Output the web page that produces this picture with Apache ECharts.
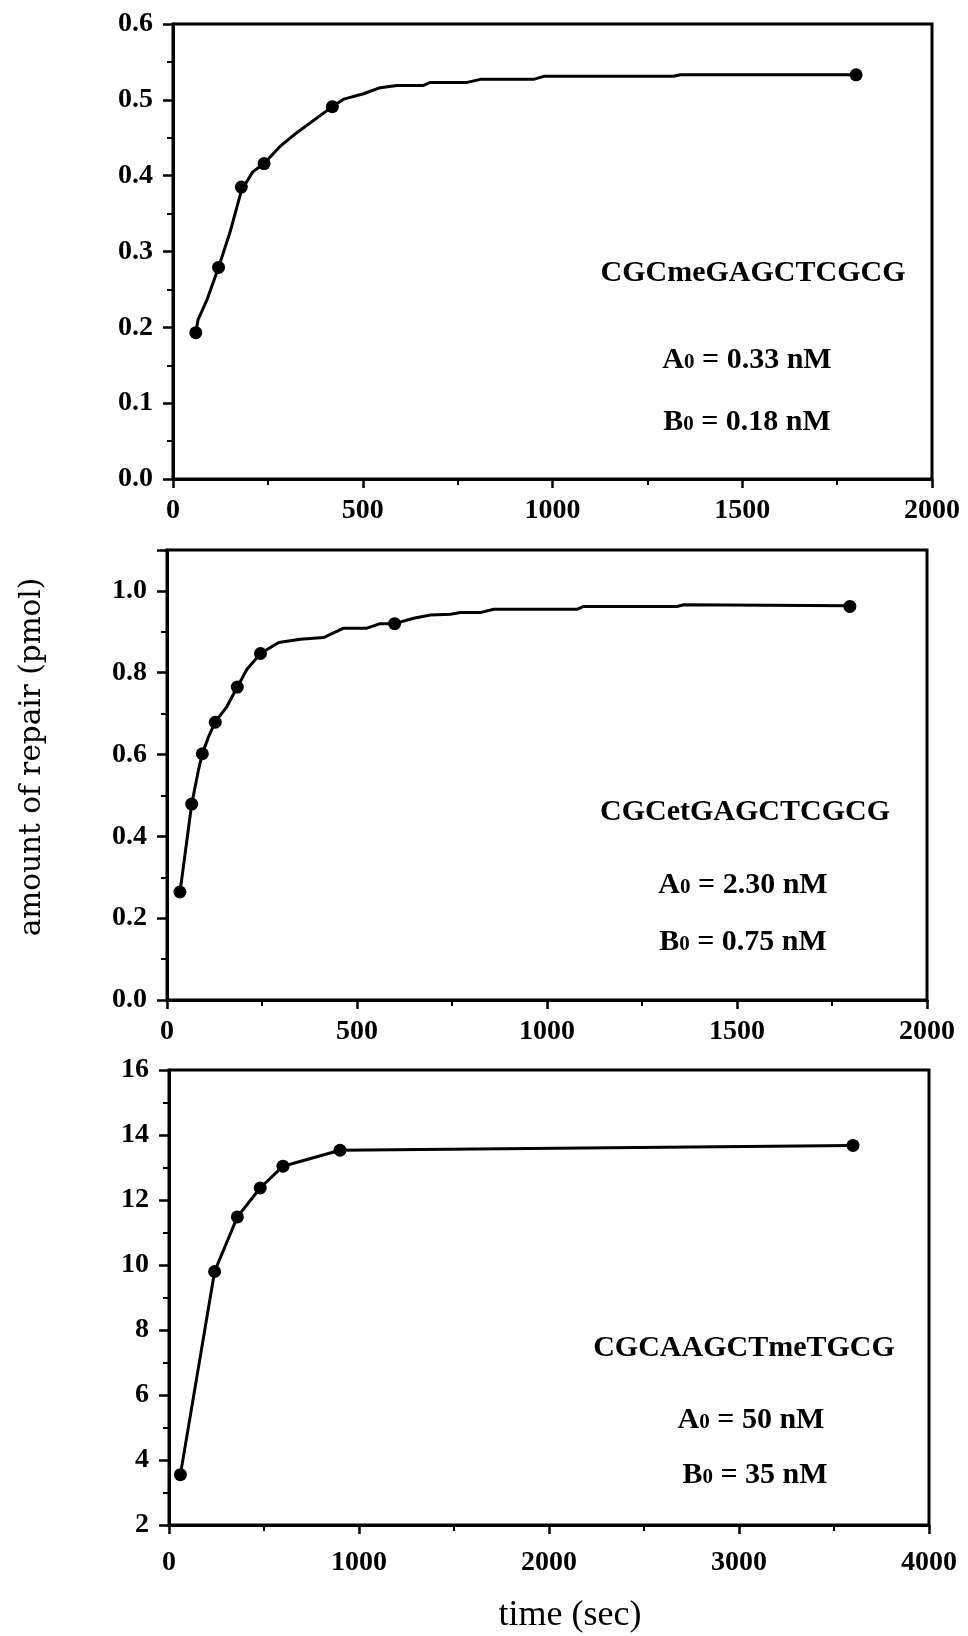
<!DOCTYPE html>
<html>
<head>
<meta charset="utf-8">
<script src="https://cdn.jsdelivr.net/npm/echarts@6/dist/echarts.min.js"></script>
<style>
html,body{margin:0;padding:0;background:#fff;}
#chart{width:968px;height:1636px;}
</style>
</head>
<body>
<div id="chart"></div>
<script>
// ---- Data ----
// Panel 1: CGCmeGAGCTCGCG
const time1 = [60, 120, 180, 240, 420, 1800];
const repair1 = [0.193, 0.279, 0.385, 0.416, 0.491, 0.533];
const fitTime1 = [60, 66, 90, 120, 150, 180, 210, 240, 283, 327, 420, 450, 502, 546, 590, 660, 678, 775, 810, 950, 977, 1319, 1337, 1800];
const fitRepair1 = [0.193, 0.210, 0.237, 0.279, 0.325, 0.380, 0.405, 0.416, 0.439, 0.457, 0.491, 0.501, 0.508, 0.516, 0.519, 0.519, 0.523, 0.523, 0.527, 0.527, 0.531, 0.531, 0.533, 0.533];

// Panel 2: CGCetGAGCTCGCG
const time2 = [34, 65, 93, 127, 185, 246, 599, 1797];
const repair2 = [0.264, 0.479, 0.602, 0.679, 0.765, 0.847, 0.920, 0.962];
const fitTime2 = [34, 38, 65, 83, 93, 110, 127, 158, 185, 210, 246, 294, 351, 412, 465, 526, 561, 599, 649, 693, 746, 772, 824, 860, 1079, 1096, 1342, 1360, 1797];
const fitRepair2 = [0.264, 0.290, 0.479, 0.563, 0.602, 0.645, 0.679, 0.718, 0.765, 0.808, 0.847, 0.874, 0.882, 0.886, 0.909, 0.909, 0.920, 0.920, 0.933, 0.941, 0.943, 0.947, 0.947, 0.955, 0.955, 0.962, 0.962, 0.966, 0.964];

// Panel 3: CGCAAGCTmeTGCG
const time3 = [60, 240, 360, 480, 600, 900, 3600];
const repair3 = [3.55, 9.8, 11.48, 12.37, 13.04, 13.53, 13.68];

// Axis ranges / ticks
const xRanges = [[0, 2000, 500], [0, 2000, 500], [0, 4000, 1000]];
const yRanges = [[0, 0.6, 0.1], [0, 1.1, 0.2], [2, 16, 2]];

// Annotations
const seqLabels = ['CGCmeGAGCTCGCG', 'CGCetGAGCTCGCG', 'CGCAAGCTmeTGCG'];
const aLabels = [' = 0.33 nM', ' = 2.30 nM', ' = 50 nM'];
const bLabels = [' = 0.18 nM', ' = 0.75 nM', ' = 35 nM'];
const yTitle = 'amount of repair (pmol)';
const xTitle = 'time (sec)';

// ---- Layout ----
const grids = [
  {left: 173, top: 24, width: 759, height: 455},
  {left: 167, top: 550, width: 760, height: 450},
  {left: 169, top: 1070, width: 760, height: 455}
];
const yDec = [1, 1, 0];
const xLabelMargin = [18, 18, 24];

const SERIF = '"Liberation Serif", "Times New Roman", serif';
const BLACK = '#000';

function pairs(xs, ys) { return xs.map((x, i) => [x, ys[i]]); }

const option = {
  backgroundColor: '#fff',
  animation: false,
  grid: grids.map(g => Object.assign({show: true, borderColor: BLACK, borderWidth: 3, backgroundColor: 'transparent'}, g)),
  xAxis: xRanges.map((r, i) => ({
    type: 'value', gridIndex: i, min: r[0], max: r[1], interval: r[2],
    axisLine: {show: true, onZero: false, lineStyle: {color: BLACK, width: 3}},
    axisTick: {show: true, inside: false, length: 9, lineStyle: {color: BLACK, width: 2.5}},
    minorTick: {show: true, splitNumber: 2, length: 6, lineStyle: {color: BLACK, width: 2}},
    splitLine: {show: false},
    axisLabel: {color: BLACK, fontFamily: SERIF, fontWeight: 'bold', fontSize: 28, margin: xLabelMargin[i],
      formatter: v => String(Math.round(v))}
  })),
  yAxis: yRanges.map((r, i) => ({
    type: 'value', gridIndex: i, min: r[0], max: r[1], interval: r[2],
    axisLine: {show: true, onZero: false, lineStyle: {color: BLACK, width: 3}},
    axisTick: {show: true, inside: false, length: 10, lineStyle: {color: BLACK, width: 2.5}},
    minorTick: {show: true, splitNumber: 2, length: 6, lineStyle: {color: BLACK, width: 2}},
    splitLine: {show: false},
    axisLabel: {
      color: BLACK, fontFamily: SERIF, fontWeight: 'bold', fontSize: 28, margin: 20,
      showMaxLabel: i !== 1,
      formatter: v => (i === 1 && v > 1.05) ? '' : v.toFixed(yDec[i])
    }
  })),
  series: [
    {type: 'line', xAxisIndex: 0, yAxisIndex: 0, data: pairs(fitTime1, fitRepair1), showSymbol: false, symbol: 'none', lineStyle: {color: BLACK, width: 3}, z: 3},
    {type: 'scatter', xAxisIndex: 0, yAxisIndex: 0, data: pairs(time1, repair1), symbol: 'circle', symbolSize: 13, itemStyle: {color: BLACK, opacity: 1}, z: 4},
    {type: 'line', xAxisIndex: 1, yAxisIndex: 1, data: pairs(fitTime2, fitRepair2), showSymbol: false, symbol: 'none', lineStyle: {color: BLACK, width: 3}, z: 3},
    {type: 'scatter', xAxisIndex: 1, yAxisIndex: 1, data: pairs(time2, repair2), symbol: 'circle', symbolSize: 13, itemStyle: {color: BLACK, opacity: 1}, z: 4},
    {type: 'line', xAxisIndex: 2, yAxisIndex: 2, data: pairs(time3, repair3), symbol: 'circle', symbolSize: 13, showSymbol: true, itemStyle: {color: BLACK, opacity: 1}, lineStyle: {color: BLACK, width: 3}, z: 3}
  ]
};

// text annotations
const seqPos = [[753, 273], [745, 812], [744, 1348]];
const aPos = [[747, 360], [743, 885], [751, 1420]];
const bPos = [[747, 422], [743, 942], [755, 1475]];
const textStyleBase = {fill: BLACK, fontFamily: SERIF, fontWeight: 'bold', fontSize: 30, align: 'center', verticalAlign: 'middle'};
const richStyle = {
  m: {fontFamily: SERIF, fontWeight: 'bold', fontSize: 30, fill: BLACK},
  s: {fontFamily: SERIF, fontWeight: 'bold', fontSize: 21, fill: BLACK, padding: [6, 0, 0, 0]}
};
const graphics = [];
for (let i = 0; i < 3; i++) {
  graphics.push({type: 'text', x: seqPos[i][0], y: seqPos[i][1], style: Object.assign({text: seqLabels[i]}, textStyleBase)});
  graphics.push({type: 'text', x: aPos[i][0], y: aPos[i][1], style: Object.assign({}, textStyleBase, {
    text: '{m|A}{s|0}{m|' + aLabels[i] + '}', rich: richStyle})});
  graphics.push({type: 'text', x: bPos[i][0], y: bPos[i][1], style: Object.assign({}, textStyleBase, {
    text: '{m|B}{s|0}{m|' + bLabels[i] + '}', rich: richStyle})});
}
graphics.push({type: 'text', x: 32, y: 757, rotation: Math.PI / 2, style: {text: yTitle, fill: BLACK, fontFamily: '"DejaVu Serif", serif', fontSize: 29.5, align: 'center', verticalAlign: 'middle'}});
graphics.push({type: 'text', x: 570, y: 1616, style: {text: xTitle, fill: BLACK, fontFamily: SERIF, fontSize: 36, align: 'center', verticalAlign: 'middle'}});
option.graphic = graphics;

const chart = echarts.init(document.getElementById('chart'), null, {renderer: 'canvas', width: 968, height: 1636});
chart.setOption(option);
</script>
</body>
</html>
